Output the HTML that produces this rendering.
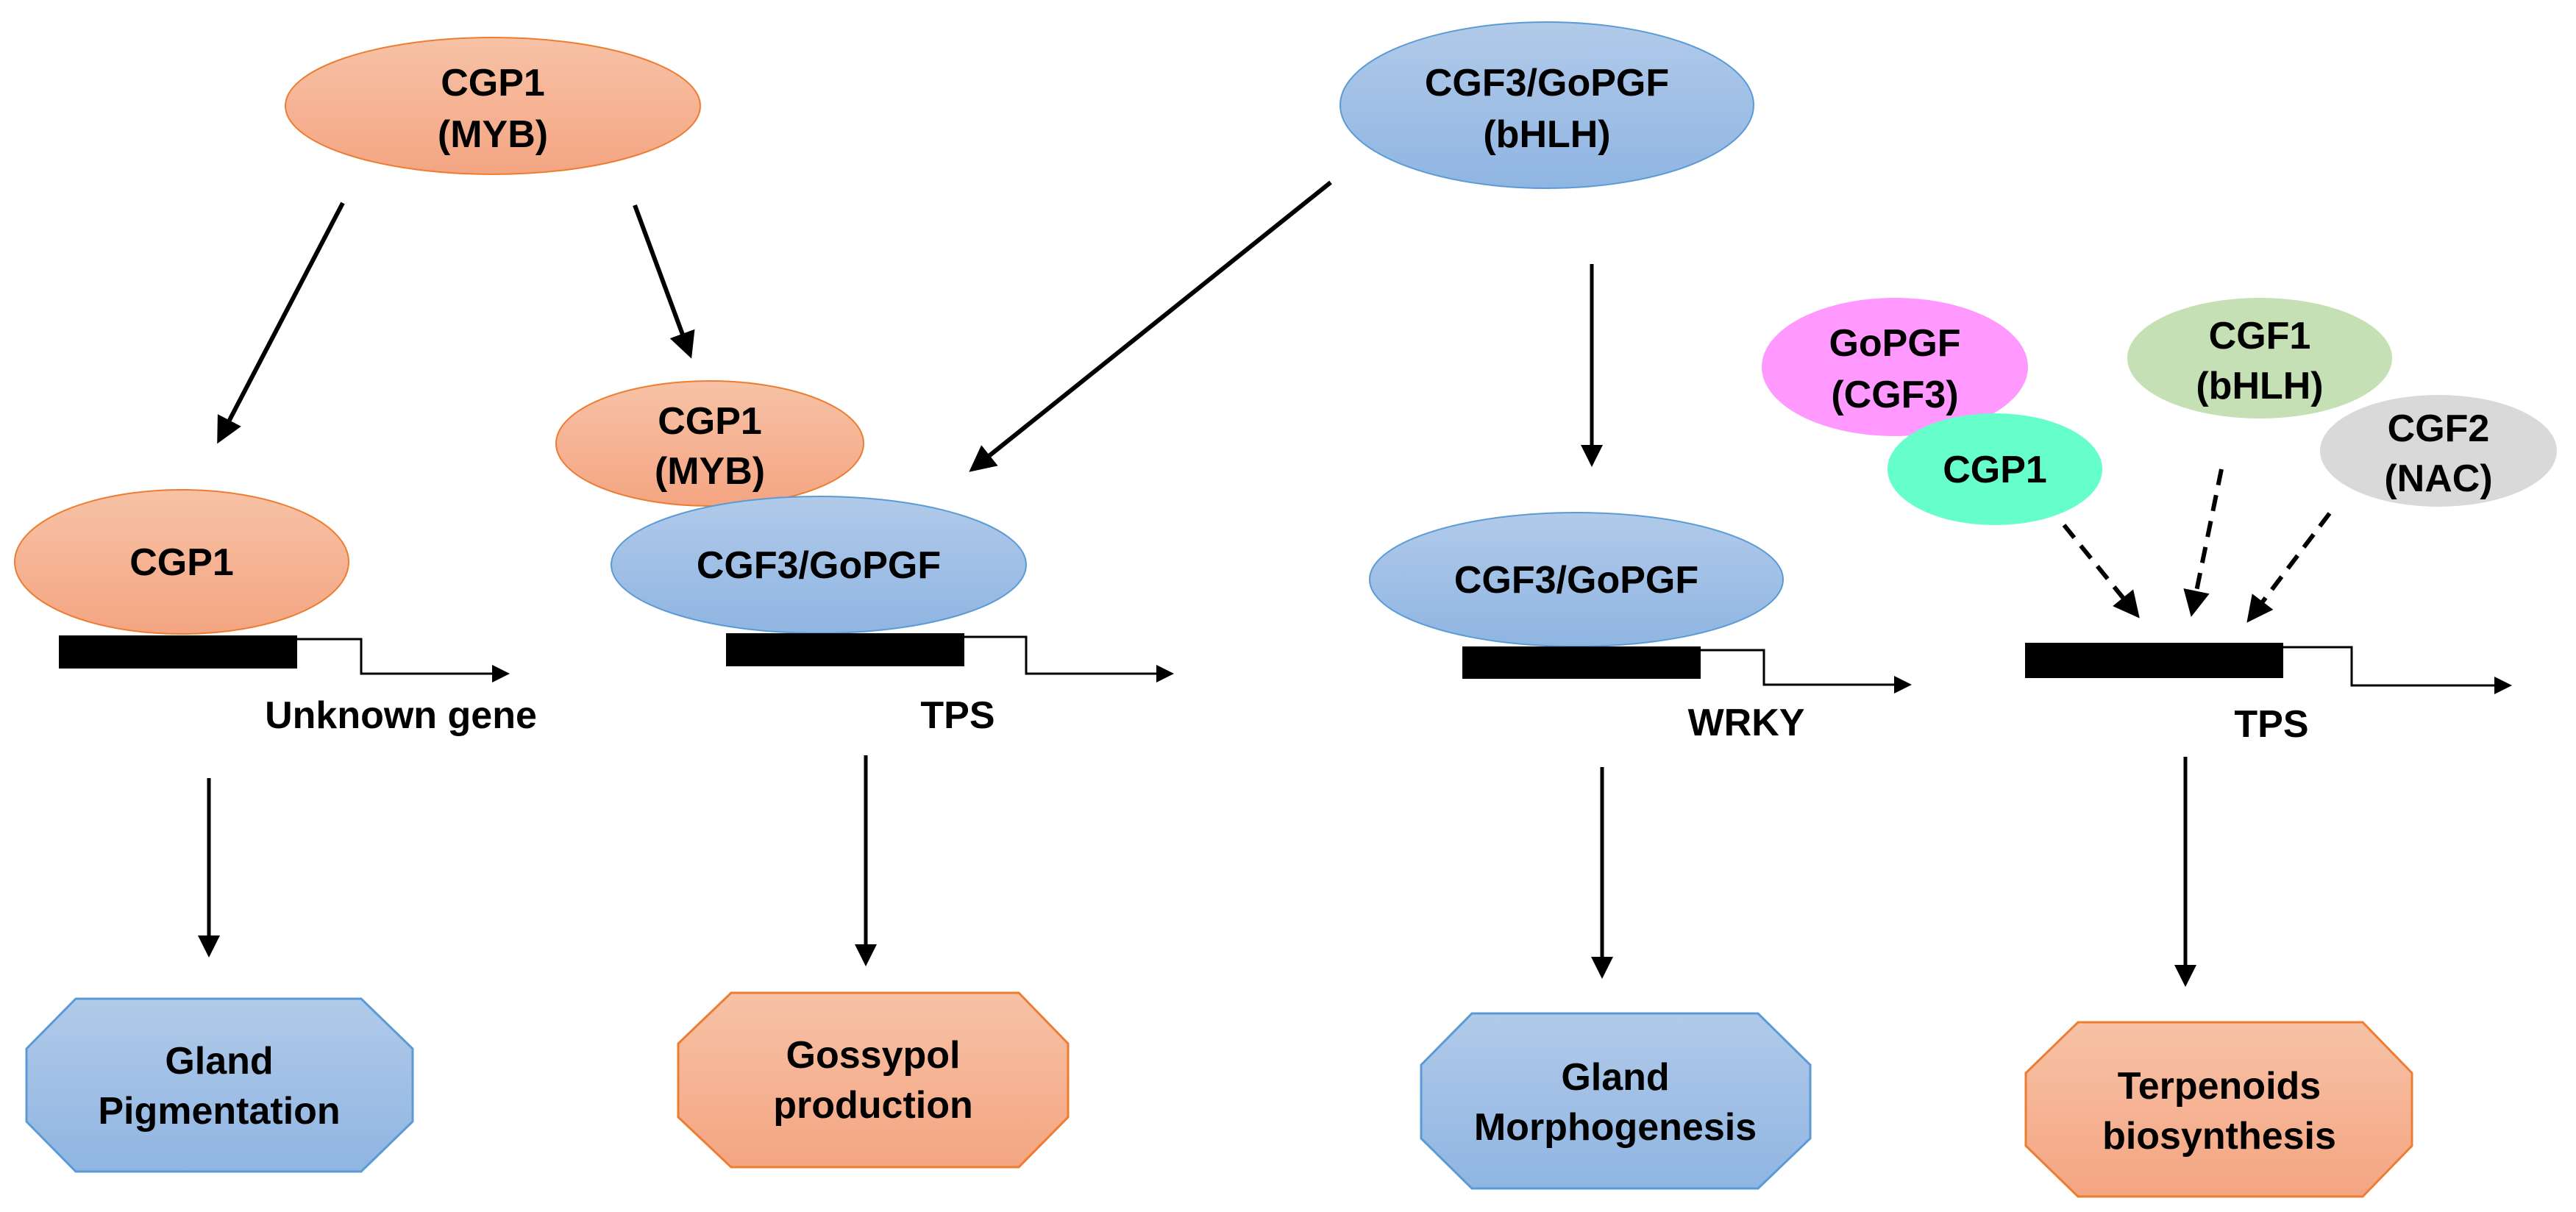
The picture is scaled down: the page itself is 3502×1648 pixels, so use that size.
<!DOCTYPE html>
<html><head><meta charset="utf-8"><style>
html,body{margin:0;padding:0;background:#fff}
svg{display:block}
text{font-family:"Liberation Sans",Arial,sans-serif;font-weight:bold;font-size:52px;fill:#000;text-anchor:middle}
</style></head><body>
<svg width="3502" height="1648" viewBox="0 0 3502 1648" xmlns="http://www.w3.org/2000/svg">
<defs>
<linearGradient id="og" x1="0" y1="0" x2="0" y2="1"><stop offset="0" stop-color="#f7c2a6"/><stop offset="1" stop-color="#f4a582"/></linearGradient>
<linearGradient id="bg" x1="0" y1="0" x2="0" y2="1"><stop offset="0" stop-color="#b1cae9"/><stop offset="1" stop-color="#8fb5e2"/></linearGradient>
<marker id="ah" markerWidth="6" markerHeight="6" refX="5" refY="3" orient="auto" markerUnits="strokeWidth"><path d="M0,0 L6,3 L0,6 Z" fill="#000"/></marker>
<marker id="ah2" markerWidth="8" markerHeight="8" refX="7" refY="4" orient="auto" markerUnits="strokeWidth"><path d="M0,0 L8,4 L0,8 Z" fill="#000"/></marker>
</defs>

<!-- top ellipses -->
<ellipse cx="670" cy="144" rx="282" ry="93" fill="url(#og)" stroke="#ed7d31" stroke-width="2"/>
<text x="670" y="130">CGP1</text><text x="670" y="200">(MYB)</text>
<ellipse cx="2103" cy="143" rx="281" ry="113" fill="url(#bg)" stroke="#5b9bd5" stroke-width="2"/>
<text x="2103" y="130">CGF3/GoPGF</text><text x="2103" y="200">(bHLH)</text>

<!-- arrows from top -->
<g stroke="#000" stroke-width="6" fill="none">
<line x1="466" y1="276" x2="298" y2="598" marker-end="url(#ah)"/>
<line x1="863" y1="279" x2="938" y2="482" marker-end="url(#ah)"/>
<line x1="1809" y1="248" x2="1322" y2="638" marker-end="url(#ah)"/>
<line x1="2164" y1="359" x2="2164" y2="630" stroke-width="5" marker-end="url(#ah)"/>
</g>

<!-- column 1 -->
<ellipse cx="247" cy="764" rx="227" ry="98" fill="url(#og)" stroke="#ed7d31" stroke-width="2"/>
<text x="247" y="782">CGP1</text>
<rect x="80" y="864" width="324" height="45" fill="#000"/>
<polyline points="404,869 491,869 491,916 690,916" stroke="#000" stroke-width="3" fill="none" marker-end="url(#ah2)"/>
<text x="545" y="990">Unknown gene</text>

<!-- column 2 -->
<ellipse cx="965" cy="603" rx="209" ry="85" fill="url(#og)" stroke="#ed7d31" stroke-width="2"/>
<text x="965" y="590">CGP1</text><text x="965" y="658">(MYB)</text>
<ellipse cx="1113" cy="768" rx="282" ry="93" fill="url(#bg)" stroke="#5b9bd5" stroke-width="2"/>
<text x="1113" y="786">CGF3/GoPGF</text>
<rect x="987" y="861" width="324" height="45" fill="#000"/>
<polyline points="1311,866 1395,866 1395,916 1593,916" stroke="#000" stroke-width="3" fill="none" marker-end="url(#ah2)"/>
<text x="1302" y="990">TPS</text>

<!-- column 3 -->
<ellipse cx="2143" cy="788" rx="281" ry="91" fill="url(#bg)" stroke="#5b9bd5" stroke-width="2"/>
<text x="2143" y="806">CGF3/GoPGF</text>
<rect x="1988" y="879" width="324" height="44" fill="#000"/>
<polyline points="2312,884 2398,884 2398,931 2596,931" stroke="#000" stroke-width="3" fill="none" marker-end="url(#ah2)"/>
<text x="2374" y="1000">WRKY</text>

<!-- column 4 -->
<ellipse cx="2576" cy="499" rx="181" ry="94" fill="#ff99ff"/>
<text x="2576" y="484">GoPGF</text><text x="2576" y="554">(CGF3)</text>
<ellipse cx="2712" cy="638" rx="146" ry="76" fill="#66ffcc"/>
<text x="2712" y="656">CGP1</text>
<ellipse cx="3072" cy="487" rx="180" ry="82" fill="#c5e0b4"/>
<text x="3072" y="474">CGF1</text><text x="3072" y="542">(bHLH)</text>
<ellipse cx="3315" cy="613" rx="161" ry="76" fill="#d9d9d9"/>
<text x="3315" y="600">CGF2</text><text x="3315" y="668">(NAC)</text>
<g stroke="#000" stroke-width="6" fill="none" stroke-dasharray="22,14">
<line x1="2806" y1="714" x2="2905" y2="836" marker-end="url(#ah)"/>
<line x1="3020" y1="638" x2="2980" y2="833" marker-end="url(#ah)"/>
<line x1="3167" y1="698" x2="3058" y2="842" marker-end="url(#ah)"/>
</g>
<rect x="2753" y="874" width="351" height="48" fill="#000"/>
<polyline points="3104,880 3197,880 3197,932 3412,932" stroke="#000" stroke-width="3" fill="none" marker-end="url(#ah2)"/>
<text x="3088" y="1002">TPS</text>

<!-- down arrows -->
<g stroke="#000" stroke-width="5" fill="none">
<line x1="284" y1="1058" x2="284" y2="1297" marker-end="url(#ah)"/>
<line x1="1177" y1="1027" x2="1177" y2="1309" marker-end="url(#ah)"/>
<line x1="2178" y1="1043" x2="2178" y2="1326" marker-end="url(#ah)"/>
<line x1="2971" y1="1029" x2="2971" y2="1337" marker-end="url(#ah)"/>
</g>

<!-- octagons -->
<polygon points="103,1358 491,1358 561,1426 561,1525 491,1593 103,1593 36,1525 36,1426" fill="url(#bg)" stroke="#5b9bd5" stroke-width="3"/>
<text x="298" y="1460">Gland</text><text x="298" y="1528">Pigmentation</text>
<polygon points="994,1350 1385,1350 1452,1419 1452,1519 1385,1587 994,1587 922,1519 922,1419" fill="url(#og)" stroke="#ed7d31" stroke-width="3"/>
<text x="1187" y="1452">Gossypol</text><text x="1187" y="1520">production</text>
<polygon points="2001,1378 2390,1378 2461,1448 2461,1548 2390,1616 2001,1616 1932,1548 1932,1448" fill="url(#bg)" stroke="#5b9bd5" stroke-width="3"/>
<text x="2196" y="1482">Gland</text><text x="2196" y="1550">Morphogenesis</text>
<polygon points="2825,1390 3212,1390 3279,1459 3279,1558 3212,1627 2825,1627 2754,1558 2754,1459" fill="url(#og)" stroke="#ed7d31" stroke-width="3"/>
<text x="3017" y="1494">Terpenoids</text><text x="3017" y="1562">biosynthesis</text>
</svg>
</body></html>
